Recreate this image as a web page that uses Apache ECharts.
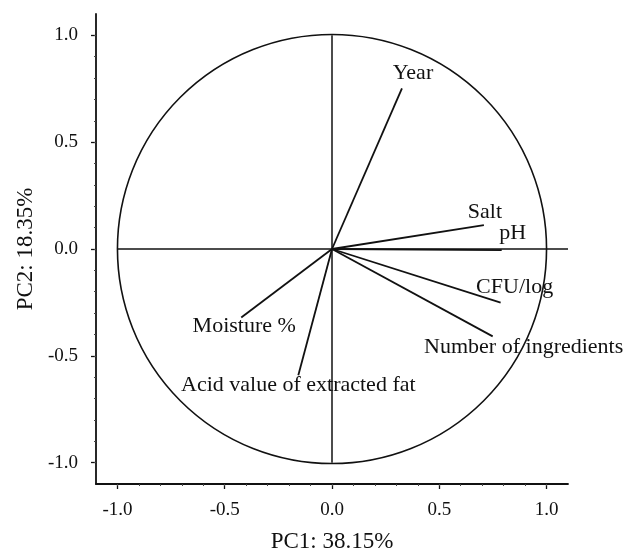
<!DOCTYPE html>
<html>
<head>
<meta charset="utf-8">
<script src="https://cdn.jsdelivr.net/npm/echarts@6/dist/echarts.min.js"></script>
<style>
html,body{margin:0;padding:0;background:#fff;}
#c{width:625px;height:555px;}
</style>
</head>
<body>
<div id="c"></div>
<script>
// ---- data (loadings) ----
var variables = ['Year', 'Salt', 'pH', 'CFU/log', 'Number of ingredients', 'Moisture %', 'Acid value of extracted fat'];
var pc1 = [0.326, 0.708, 0.791, 0.786, 0.749, -0.423, -0.157];
var pc2 = [0.752, 0.112, -0.005, -0.251, -0.409, -0.321, -0.591];
var majorTicks = [-1.0, -0.5, 0.0, 0.5, 1.0];
var minorTicks = [-1.0, -0.9, -0.8, -0.7, -0.6, -0.5, -0.4, -0.3, -0.2, -0.1, 0.0, 0.1, 0.2, 0.3, 0.4, 0.5, 0.6, 0.7, 0.8, 0.9, 1.0];
var xName = 'PC1: 38.15%';
var yName = 'PC2: 18.35%';
// reference lines through the origin
var refLines = [
  [[-1.0, 0], [1.1, 0]],
  [[0, -1.0], [0, 1.0]]
];

// ---- styling ----
var labelOffsets = [[11, -15], [1, -13], [11, -17], [14, -15], [31, 11], [3, 9], [0, 10]];
var ink = '#111111';
var font = 'Liberation Serif';

var chart = echarts.init(document.getElementById('c'), null, {renderer: 'canvas'});

var vectorData = variables.map(function (n, i) {
  return {name: n, coords: [[0, 0], [pc1[i], pc2[i]]]};
});
var labelData = variables.map(function (n, i) {
  return {name: n, value: [pc1[i], pc2[i]], label: {offset: labelOffsets[i]}};
});

function axisBase(name, isY) {
  return {
    type: 'value', min: -1.1, max: 1.1,
    name: name, nameLocation: 'middle',
    nameGap: isY ? 56 : 46,
    nameRotate: isY ? 90 : 0,
    nameTextStyle: {fontFamily: font, fontSize: 23, color: ink},
    axisLine: {show: true, onZero: false, lineStyle: {color: ink, width: 1.8}},
    axisTick: {show: true, customValues: majorTicks, length: 5, lineStyle: {color: ink, width: 1.3}},
    axisLabel: {show: true, customValues: majorTicks, margin: isY ? 18 : 17,
      fontFamily: font, fontSize: 19, color: ink,
      formatter: function (v) { return v.toFixed(1); }},
    splitLine: {show: false}
  };
}
function minorAxis(isY) {
  return {
    type: 'value', min: -1.1, max: 1.1, gridIndex: 0,
    position: isY ? 'left' : 'bottom', offset: 0,
    axisLine: {show: false, onZero: false},
    axisTick: {show: true, customValues: minorTicks, length: 2, lineStyle: {color: '#444', width: 1}},
    axisLabel: {show: false},
    splitLine: {show: false}
  };
}

var xMain = axisBase(xName, false); xMain.position = 'bottom';
var yMain = axisBase(yName, true); yMain.position = 'left';

chart.setOption({
  animation: false,
  backgroundColor: '#fff',
  grid: {left: 96, right: 57, top: 14, bottom: 71, containLabel: false, outerBoundsMode: 'none'},
  xAxis: [xMain, minorAxis(false)],
  yAxis: [yMain, minorAxis(true)],
  series: [
    {
      type: 'custom', coordinateSystem: 'cartesian2d', xAxisIndex: 0, yAxisIndex: 0,
      data: [[0, 0]], silent: true,
      renderItem: function (params, api) {
        var c = api.coord([api.value(0), api.value(1)]);
        var r = api.size([1, 1]);
        return {type: 'circle', shape: {cx: c[0], cy: c[1], r: r[0]},
          style: {fill: 'none', stroke: ink, lineWidth: 1.6}};
      }
    },
    {
      type: 'lines', coordinateSystem: 'cartesian2d', xAxisIndex: 0, yAxisIndex: 0,
      silent: true,
      lineStyle: {color: ink, width: 1.5, opacity: 1},
      data: refLines.map(function (c) { return {coords: c}; })
    },
    {
      type: 'lines', coordinateSystem: 'cartesian2d', xAxisIndex: 0, yAxisIndex: 0,
      silent: true,
      lineStyle: {color: ink, width: 1.8, opacity: 1},
      data: vectorData
    },
    {
      type: 'scatter', xAxisIndex: 0, yAxisIndex: 0,
      symbolSize: 0, silent: true,
      itemStyle: {opacity: 1},
      label: {show: true, position: 'inside', align: 'center', verticalAlign: 'middle', opacity: 1,
        formatter: '{b}', fontFamily: font, fontSize: 22, color: ink},
      data: labelData
    }
  ]
});
</script>
</body>
</html>
